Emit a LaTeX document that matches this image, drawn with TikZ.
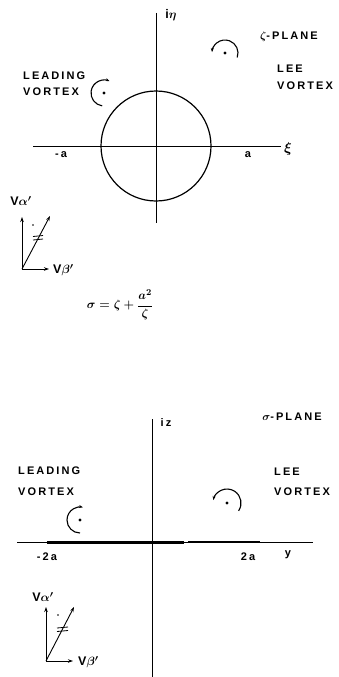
\documentclass[tikz,border=0pt]{standalone}
\usepackage{fontspec}
\usepackage{amsmath}
\setmainfont{Liberation Sans}
\newfontfamily\lettering[LetterSpace=19]{Liberation Sans}
\usetikzlibrary{arrows.meta, positioning}

\begin{document}
\begin{tikzpicture}[
  x=1pt, y=-1pt,
  axis/.style={line width=1pt},
  cut/.style={line width=3pt},
  vec/.style={-{Stealth[length=5pt,width=3.5pt]}, line width=0.9pt},
  swirl/.style={-{Stealth[length=4pt,width=3pt]}, line width=1.1pt},
  lbl/.style={font=\fontsize{11}{13}\lettering\bfseries\boldmath, inner sep=0pt},
  comp/.style={font=\fontsize{12.5}{14}\selectfont\bfseries\boldmath, inner sep=0pt},
  stack/.style={lbl, align=left, anchor=west},
]
  \useasboundingbox (0,0) rectangle (339,677);

  % zeta-plane
  \coordinate (O1) at (156,146);
  \coordinate (xl1) at (33,146);
  \coordinate (xr1) at (281,146);
  \coordinate (yt1) at (156,13);
  \coordinate (yb1) at (156,223);
  \draw[axis] (xl1) -- (xr1);
  \draw[axis] (yt1) -- (yb1);
  \draw[line width=1.2pt] (O1) circle[radius=55];

  \node[lbl, font=\fontsize{12.5}{14}\lettering\bfseries\boldmath] (eta) at (171,15) {i$\eta$};
  \node[lbl, font=\fontsize{14}{14}\selectfont\boldmath] (xi) at (288,149) {$\xi$};
  \node[lbl] (ma1)   at (61,155)  {-a};
  \node[lbl] (pa1)   at (248,155) {a};
  \node[lbl] (zpl)   at (289,37)  {$\zeta$-PLANE};
  \node[stack] (lead1) at (23,84)  {LEADING\\[3pt]VORTEX};
  \node[stack] (lee1)  at (277,77) {LEE\\[4pt]VORTEX};

  % vortices
  \coordinate (lv1) at (104,93);
  \coordinate (rv1) at (225,53);
  \fill (lv1) circle[radius=1.7];
  \fill (rv1) circle[radius=1.7];
  \draw[swirl] (lv1) ++(-262:13) arc[start angle=-262, end angle=-65, radius=13];
  \draw[swirl] (rv1) ++(20:13) arc[start angle=20, end angle=-176, radius=13];

  % velocity components
  \coordinate (v1) at (22,269);
  \coordinate (va1) at (22,217);
  \coordinate (vr1) at (50,216);
  \coordinate (vb1) at (49,269);
  \draw[vec] (v1) -- (va1);
  \draw[vec] (v1) -- (vr1);
  \draw[vec] (v1) -- (vb1);
  \draw[line width=0.8pt] (33,236.5) -- (43,235.5) (33,240) -- (43,239);
  \fill (33,225) circle[radius=0.8];
  \node[comp] (al1) at (21,201) {V$\alpha'$};
  \node[comp, anchor=west] (be1) at (53,270) {V$\beta'$};

  \node[inner sep=0pt, font=\fontsize{13}{15}\selectfont\boldmath] (map) at (120,305)
    {$\sigma=\zeta+\dfrac{a^{2}}{\zeta}$};

  % sigma-plane
  \coordinate (O2) at (152,542);
  \coordinate (xl2) at (17,542);
  \coordinate (xr2) at (313,542);
  \coordinate (yt2) at (152,419);
  \coordinate (yb2) at (152,677);
  \coordinate (cl) at (47,542);
  \coordinate (cm) at (184,542);
  \coordinate (cn) at (188,542);
  \coordinate (cr) at (260,542);
  \draw[axis] (xl2) -- (xr2);
  \draw[axis] (yt2) -- (yb2);
  \draw[cut] (cl) -- (cm);
  \draw[cut, line width=2.5pt] (cn) -- (cr);

  \node[lbl] (iz)    at (166,423) {iz};
  \node[lbl] (ylab)  at (288,555) {y};
  \node[lbl] (ma2)   at (47,557)  {-2a};
  \node[lbl] (pa2)   at (248,557) {2a};
  \node[lbl] (spl)   at (292,417) {$\sigma$-PLANE};
  \node[stack] (lead2) at (18,481) {LEADING\\[8pt]VORTEX};
  \node[stack] (lee2)  at (274,482) {LEE\\[7pt]VORTEX};

  \coordinate (lv2) at (80,520);
  \coordinate (rv2) at (227,503);
  \fill (lv2) circle[radius=1.7];
  \fill (rv2) circle[radius=1.7];
  \draw[swirl] (lv2) ++(-270:13) arc[start angle=-270, end angle=-77, radius=13];
  \draw[swirl] (rv2) ++(34:14) arc[start angle=34, end angle=-168, radius=14];

  \coordinate (v2) at (46,661);
  \coordinate (va2) at (46,607);
  \coordinate (vr2) at (74,607);
  \coordinate (vb2) at (73,661);
  \draw[vec] (v2) -- (va2);
  \draw[vec] (v2) -- (vr2);
  \draw[vec] (v2) -- (vb2);
  \draw[line width=0.8pt] (57,628) -- (68,627) (57,631.5) -- (68,630.5);
  \fill (58,615) circle[radius=0.8];
  \node[comp] (al2) at (43,597) {V$\alpha'$};
  \node[comp, anchor=west] (be2) at (78,662) {V$\beta'$};
\end{tikzpicture}
\end{document}
